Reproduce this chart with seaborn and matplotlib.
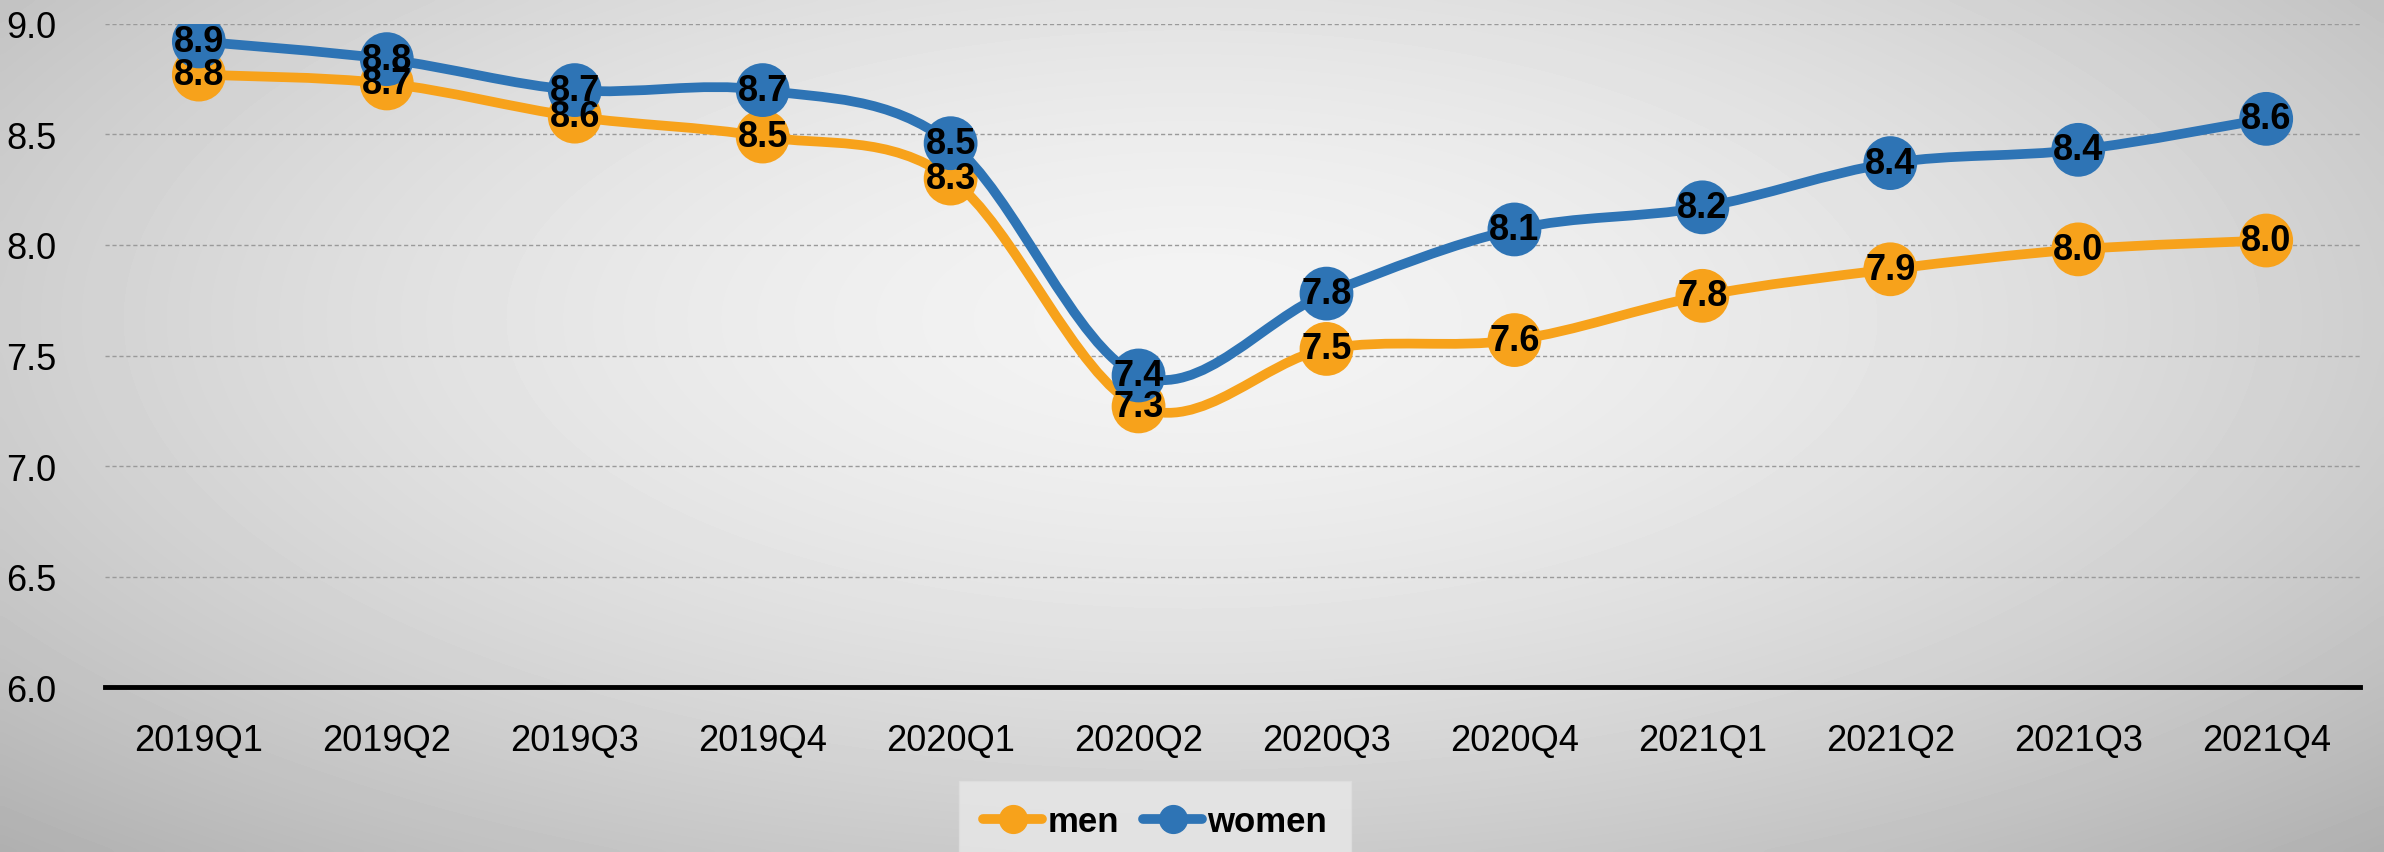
import numpy as np
import pandas as pd
import matplotlib
matplotlib.use("Agg")
import matplotlib.pyplot as plt
from matplotlib.path import Path
from matplotlib.patches import PathPatch
from matplotlib.lines import Line2D
import seaborn as sns

# chart data
quarters = ["2019Q1", "2019Q2", "2019Q3", "2019Q4", "2020Q1", "2020Q2",
            "2020Q3", "2020Q4", "2021Q1", "2021Q2", "2021Q3", "2021Q4"]
men = [8.77, 8.73, 8.58, 8.49, 8.30, 7.27, 7.53, 7.57, 7.77, 7.89, 7.98, 8.02]
women = [8.92, 8.84, 8.70, 8.70, 8.46, 7.41, 7.78, 8.07, 8.17, 8.37, 8.43, 8.57]
y_ticks = [6.0, 6.5, 7.0, 7.5, 8.0, 8.5, 9.0]

series_colors = {"men": "#F7A21B", "women": "#2E74B5"}

data = pd.DataFrame({"quarter": quarters, "men": men, "women": women})
data["pos"] = np.arange(len(quarters))
long = data.melt(id_vars=["quarter", "pos"], value_vars=["men", "women"],
                 var_name="series", value_name="value")

sns.set_style("white")
plt.rcParams["font.family"] = ["Liberation Sans", "DejaVu Sans"]
plt.rcParams["text.color"] = "black"
plt.rcParams["xtick.color"] = "black"
plt.rcParams["ytick.color"] = "black"

fig = plt.figure(figsize=(23.84, 8.53), dpi=100)

# radial gray gradient background
bg = fig.add_axes([0, 0, 1, 1], zorder=-10)
gx, gy = np.meshgrid(np.linspace(-1, 1, 400), np.linspace(-1, 1, 200))
r = np.sqrt((gx / 1.1) ** 2 + ((gy + 0.25) / 1.3) ** 2)
shade = 0.955 - 0.17 * np.clip(r, 0, 1.4) ** 1.6
bg.imshow(shade, cmap="gray", vmin=0, vmax=1, aspect="auto", extent=[0, 1, 0, 1],
          origin="upper", interpolation="bicubic")
bg.axis("off")

ax = fig.add_axes([0.044, 0.193, 0.946, 0.778])
ax.set_facecolor("none")


def smooth_path(xs, ys):
    # Bezier smoothing through the points, like Excel's smoothed line
    pts = np.column_stack([xs, ys]).astype(float)
    n = len(pts)
    verts = [pts[0]]
    codes = [Path.MOVETO]
    for i in range(n - 1):
        p0 = pts[i - 1] if i > 0 else pts[i]
        p1 = pts[i]
        p2 = pts[i + 1]
        p3 = pts[i + 2] if i + 2 < n else pts[i + 1]
        c1 = p1 + (p2 - p0) / 6.0
        c2 = p2 - (p3 - p1) / 6.0
        verts += [c1, c2, p2]
        codes += [Path.CURVE4] * 3
    return Path(verts, codes)


for z, name in enumerate(["men", "women"]):
    sub = long[long["series"] == name]
    patch = PathPatch(smooth_path(sub["pos"], sub["value"]), facecolor="none",
                      edgecolor=series_colors[name], lw=7, zorder=2 + 2 * z,
                      capstyle="round", joinstyle="round")
    ax.add_patch(patch)
    sns.scatterplot(data=sub, x="pos", y="value", color=series_colors[name],
                    s=1500, edgecolor="none", ax=ax, zorder=3 + 2 * z, legend=False)

for _, row in long.iterrows():
    ax.text(row["pos"], row["value"], f"{row['value']:.1f}", ha="center",
            va="center", fontsize=26, fontweight="bold", color="black", zorder=10)

ax.set_xlim(-0.5, len(quarters) - 0.5)
ax.set_ylim(6.0, 9.0)
ax.set_yticks(y_ticks)
ax.set_yticklabels([f"{v:.1f}" for v in y_ticks])
ax.set_xticks(data["pos"])
ax.set_xticklabels(quarters)
ax.set_xticks(np.arange(-0.5, len(quarters), 1.0), minor=True)
ax.tick_params(axis="x", which="major", length=0, pad=26, labelsize=26, labelcolor="black")
ax.tick_params(axis="x", which="minor", length=10, width=3, color="black", direction="out")
ax.tick_params(axis="y", length=0, pad=35, labelsize=26, labelcolor="black")
ax.set_xlabel("")
ax.set_ylabel("")

ax.grid(axis="y", which="major", color="#9a9a9a", linestyle=(0, (3, 2)), linewidth=1.0)
ax.grid(axis="x", visible=False)
ax.set_axisbelow(True)
for side in ["left", "right", "top"]:
    ax.spines[side].set_visible(False)
ax.spines["bottom"].set_linewidth(3.5)
ax.spines["bottom"].set_color("black")
ax.spines["bottom"].set_zorder(1)

handles = [Line2D([0], [0], color=series_colors[n], lw=7, marker="o", markersize=20,
                  label=n) for n in ["men", "women"]]
leg = fig.legend(handles=handles, loc="lower center", bbox_to_anchor=(0.4845, -0.02),
                 ncol=2, frameon=True, handlelength=1.7,
                 handletextpad=0.15, columnspacing=0.7, borderpad=0.4,
                 prop={"weight": "bold", "size": 25}, labelcolor="black")
leg.get_frame().set_facecolor("#e8e8e8")
leg.get_frame().set_edgecolor("#dedede")
leg.get_frame().set_boxstyle("square")

fig.savefig("out.png", dpi=100)
